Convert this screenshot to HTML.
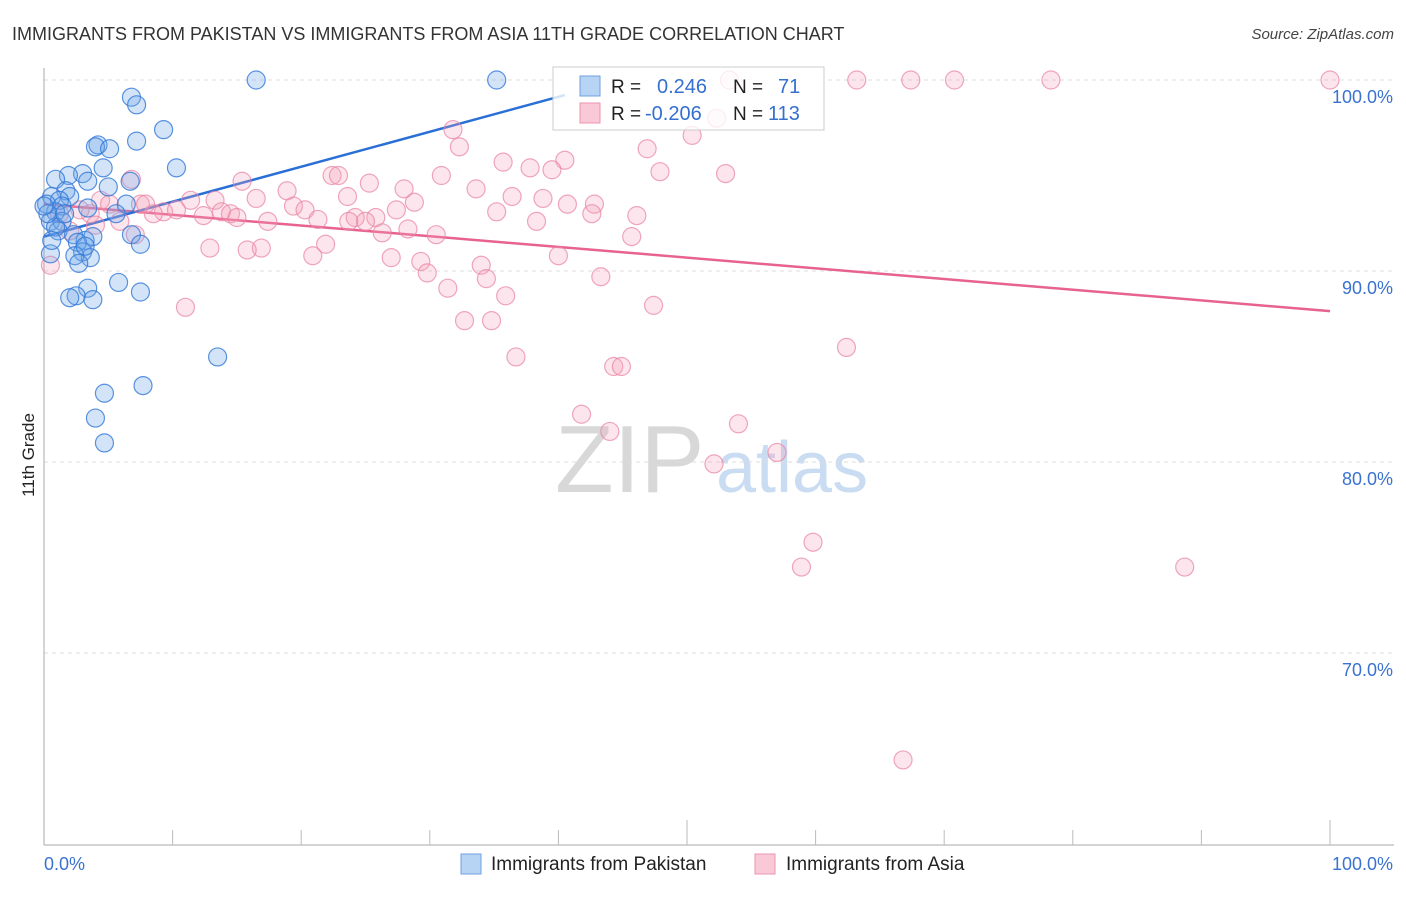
<!DOCTYPE html>
<html><head><meta charset="utf-8"><style>
body{margin:0;background:#fff;font-family:"Liberation Sans",sans-serif}
svg text{font-family:"Liberation Sans",sans-serif}
</style></head><body>
<svg id="chart" width="1406" height="892" viewBox="0 0 1406 892" xmlns="http://www.w3.org/2000/svg">
<text x="12" y="40" font-size="18" fill="#333">IMMIGRANTS FROM PAKISTAN VS IMMIGRANTS FROM ASIA 11TH GRADE CORRELATION CHART</text>
<text x="1394" y="39" font-size="15" fill="#444" text-anchor="end" font-style="italic">Source: ZipAtlas.com</text>
<text x="34" y="455" font-size="17" fill="#222" text-anchor="middle" transform="rotate(-90 34 455)">11th Grade</text>
<g>
<text x="555" y="492" font-size="96" fill="#d8d8d8" font-family="Liberation Serif,serif">ZIP</text>
<text x="716" y="492" font-size="72" fill="#c9dcf2">atlas</text>
</g>
<g id="grid"></g><g id="axes"></g><g id="lines"></g><g id="pts"></g>
<g>
<rect x="553" y="67" width="271" height="63" fill="rgba(255,255,255,0.8)" stroke="#ccc"/>
<rect x="580" y="76" width="20" height="20" fill="#b8d4f4" stroke="#6fa0e0"/>
<rect x="580" y="103" width="20" height="20" fill="#f9c9d7" stroke="#eb93ae"/>
<text x="611" y="93" font-size="19" fill="#222">R =</text>
<text x="657" y="93" font-size="20" fill="#3570d0">0.246</text>
<text x="733" y="93" font-size="19" fill="#222">N =</text>
<text x="778" y="93" font-size="20" fill="#3570d0">71</text>
<text x="611" y="120" font-size="19" fill="#222">R =</text>
<text x="645" y="120" font-size="20" fill="#3570d0">-0.206</text>
<text x="733" y="120" font-size="19" fill="#222">N =</text>
<text x="768" y="120" font-size="20" fill="#3570d0">113</text>
</g>
<g>
<rect x="461" y="854" width="20" height="20" fill="#b8d4f4" stroke="#6fa0e0"/>
<text x="491" y="870" font-size="19" fill="#222">Immigrants from Pakistan</text>
<rect x="755" y="854" width="20" height="20" fill="#f9c9d7" stroke="#eb93ae"/>
<text x="786" y="870" font-size="19" fill="#222">Immigrants from Asia</text>
</g>
</svg>
<script>
const yTicks=[100,90,80,70];
const xTickLabels=["0.0%","100.0%"];
const blueX=[16.5,35.2,6.8,7.2,9.3,7.2,4.2,4.0,5.1,10.3,4.6,3.0,1.9,0.9,3.4,5.0,1.7,2.0,0.6,1.2,0.2,1.4,6.7,6.4,5.6,3.4,0.9,0.5,1.4,1.1,2.3,3.2,3.8,6.8,7.5,2.6,3.0,3.6,2.4,0.5,2.7,5.8,7.5,3.4,2.5,2.0,3.8,13.5,7.7,4.7,4.0,4.7,0.9,0.3,0,1.6,3.2,0.6];
const blueY=[100,100,99.1,98.7,97.4,96.8,96.6,96.5,96.4,95.4,95.4,95.1,95.0,94.8,94.7,94.4,94.2,93.9,93.9,93.7,93.5,93.4,94.7,93.5,93.0,93.3,93.1,92.6,92.6,92.1,91.9,91.6,91.8,91.9,91.4,91.5,91.0,90.7,90.8,90.9,90.4,89.4,88.9,89.1,88.7,88.6,88.5,85.5,84.0,83.6,82.3,81.0,92.3,93.0,93.4,93.0,91.3,91.6];
const pinkX=[53.3,63.2,67.4,70.8,78.3,100,52.3,31.8,50.4,32.3,46.9,35.7,40.5,37.8,39.5,47.9,53.0,22.4,22.9,30.9,25.3,28.0,33.6,15.4,6.8,18.9,38.8,36.4,16.5,11.4,13.3,28.8,40.7,42.8,23.6,46.1,42.6,35.2,27.4,19.4,20.3,13.8,14.5,9.3,8.5,10.3,12.4,15.0,17.4,21.3,24.2,25.8,23.7,25.0,38.3,26.3,28.3,30.5,45.7,21.9,12.9,16.9,15.8,20.9,27.0,40.0,29.3,34.0,29.8,34.4,43.3,31.4,35.9,47.4,11.0,32.7,34.8,36.7,62.4,44.3,44.9,41.8,44.0,54.0,52.1,57.0,59.8,58.9,88.7,66.8,4.4,2.8,5.9,1.2,3.6,7.5,0.5,5.1,7.1,7.9,2.0,4.0];
const pinkY=[100,100,100,100,100,100,98.0,97.4,97.1,96.5,96.4,95.7,95.8,95.4,95.3,95.2,95.1,95.0,95.0,95.0,94.6,94.3,94.3,94.7,94.8,94.2,93.8,93.9,93.8,93.7,93.7,93.6,93.5,93.5,93.9,92.9,93.0,93.1,93.2,93.4,93.2,93.1,93.0,93.1,93.0,93.2,92.9,92.8,92.6,92.7,92.8,92.8,92.6,92.6,92.6,92.0,92.2,91.9,91.8,91.4,91.2,91.2,91.1,90.8,90.7,90.8,90.5,90.3,89.9,89.6,89.7,89.1,88.7,88.2,88.1,87.4,87.4,85.5,86.0,85.0,85.0,82.5,81.6,82.0,79.9,80.5,75.8,74.5,74.5,64.4,93.7,93.2,92.6,93.0,93.0,93.5,90.3,93.5,91.9,93.5,92.1,92.4];
const blueTrend=[91.8,0.183,0,40.5];
const pinkTrend=[93.5,-0.056,0,100];
const xs=v=>44+v*12.86, ys=v=>80+(100-v)*19.1;
const NS="http://www.w3.org/2000/svg";
function mk(p,t,a){const e=document.createElementNS(NS,t);for(const k in a)e.setAttribute(k,a[k]);p.appendChild(e);return e;}
const grid=document.getElementById('grid'),axes=document.getElementById('axes'),lines=document.getElementById('lines'),pts=document.getElementById('pts');
yTicks.forEach(t=>{
 const l=mk(grid,'line',{x1:44,x2:1392,y1:ys(t),y2:ys(t),stroke:'#ddd','stroke-dasharray':'4,4'});
 
 
 const tx=mk(grid,'text',{x:1393,y:ys(t)+23,'font-size':18,fill:'#3a72d0','text-anchor':'end'});
 tx.textContent=t.toFixed(1)+'%';
 
 
});
mk(axes,'line',{x1:44,x2:44,y1:68,y2:845,stroke:'#aaa'});
mk(axes,'line',{x1:44,x2:1394,y1:845,y2:845,stroke:'#aaa'});
for(let i=1;i<=10;i++){const x=xs(i*10);mk(axes,'line',{x1:x,x2:x,y1:(i==5||i==10)?820:830,y2:845,stroke:'#bbb'});}
const xl0=mk(axes,'text',{x:44,y:870,'font-size':18,fill:'#3a72d0'});xl0.textContent=xTickLabels[0];


const xl1=mk(axes,'text',{x:1393,y:870,'font-size':18,fill:'#3a72d0','text-anchor':'end'});xl1.textContent=xTickLabels[1];


function pt(X,Y,fill,stroke,name){for(let i=0;i<X.length;i++){const c=mk(pts,'circle',{cx:xs(X[i]),cy:ys(Y[i]),r:9,fill:fill,stroke:stroke,'stroke-width':1.2});
 
 }}
pt(pinkX,pinkY,'rgba(244,160,186,0.28)','rgba(232,130,162,0.7)','point-asia');
pt(blueX,blueY,'rgba(110,165,232,0.3)','rgba(50,120,215,0.8)','point-pakistan');
function tr(T,col,name){const l=mk(lines,'line',{x1:xs(T[2]),y1:ys(T[0]+T[1]*T[2]),x2:xs(T[3]),y2:ys(T[0]+T[1]*T[3]),stroke:col,'stroke-width':2.5});
 
 }
tr(pinkTrend,'#e8628f','trend-line-asia');
tr(blueTrend,'#2a6fd6','trend-line-pakistan');
</script>
</body></html>
